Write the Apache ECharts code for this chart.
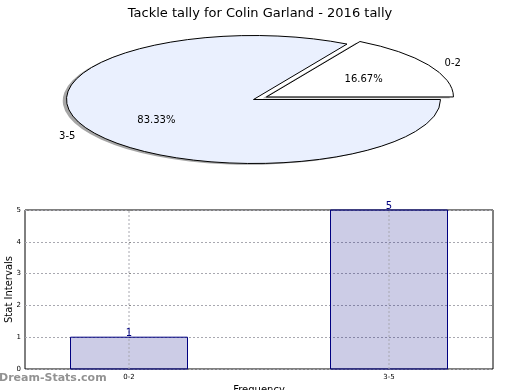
<!DOCTYPE html>
<html><head><meta charset="utf-8">
<script src="https://cdn.jsdelivr.net/npm/echarts@6/dist/echarts.min.js"></script>
<style>html,body{margin:0;padding:0;background:#fff}#c{width:520px;height:390px}</style>
</head><body><div id="c"></div>
<script>
const chartTitle = 'Tackle tally for Colin Garland - 2016 tally';
const categories = ['0-2', '3-5'];
const counts = [1, 5];
const pieColors = ['#ffffff', '#eaf0fe'];
const pieExplode = [0.08, 0];
const yTicks = [0, 1, 2, 3, 4, 5];
const xAxisName = 'Frequency';
const yAxisName = 'Stat Intervals';
const watermark = 'Dream-Stats.com';

const FONT = 'DejaVu Sans';
const total = counts.reduce((a, b) => a + b, 0);
const PIE = { cx: 253.5, cy: 99.5, rx: 187, ry: 64 };

function wedgePath(cx, cy, rx, ry, a0, a1) {
  const x0 = cx + rx * Math.cos(a0), y0 = cy - ry * Math.sin(a0);
  const x1 = cx + rx * Math.cos(a1), y1 = cy - ry * Math.sin(a1);
  const large = (a1 - a0) > Math.PI ? 1 : 0;
  return 'M' + cx + ' ' + cy + 'L' + x0 + ' ' + y0 +
         'A' + rx + ' ' + ry + ' 0 ' + large + ' 0 ' + x1 + ' ' + y1 + 'Z';
}

function pieItem(params, api) {
  const i = params.dataIndex;
  const v = api.value(0);
  let cum = 0;
  for (let j = 0; j < i; j++) cum += counts[j];
  const a0 = 2 * Math.PI * cum / total;
  const a1 = a0 + 2 * Math.PI * v / total;
  const mid = (a0 + a1) / 2;
  const rx = PIE.rx, ry = PIE.ry;
  const ox = PIE.cx + pieExplode[i] * rx * Math.cos(mid);
  const oy = PIE.cy - pieExplode[i] * ry * Math.sin(mid);
  const lx = ox + 1.1 * rx * Math.cos(mid);
  const ly = oy - 1.1 * ry * Math.sin(mid) + 2;
  const px = ox + 0.6 * rx * Math.cos(mid);
  const py = oy - 0.6 * ry * Math.sin(mid) + 2;
  return {
    type: 'group',
    children: [
      { type: 'path', shape: { pathData: wedgePath(ox - 0.02 * rx, oy + 0.02 * ry, rx, ry, a0, a1) },
        style: { fill: 'rgba(77,77,77,0.5)' } },
      { type: 'path', shape: { pathData: wedgePath(ox, oy, rx, ry, a0, a1) },
        style: { fill: pieColors[i], stroke: '#000', lineWidth: 1 } },
      { type: 'text', x: lx, y: ly, z2: 10,
        style: { text: categories[i], font: '10px "' + FONT + '"', fill: '#000',
                 align: Math.cos(mid) > 0 ? 'left' : 'right', verticalAlign: 'middle' } },
      { type: 'text', x: px, y: py, z2: 10,
        style: { text: (100 * v / total).toFixed(2) + '%', font: '10px "' + FONT + '"', fill: '#000',
                 align: 'center', verticalAlign: 'middle' } }
    ]
  };
}

function barItem(params, api) {
  const i = api.value(0);
  const v = api.value(1);
  const w = 0.45;
  const p0 = api.coord([i - w / 2, 0]);
  const p1 = api.coord([i + w / 2, v]);
  const g0 = api.coord([i, yTicks[0]]);
  const g1 = api.coord([i, yTicks[yTicks.length - 1]]);
  return {
    type: 'group',
    children: [
      { type: 'rect', shape: { x: p0[0], y: p1[1], width: p1[0] - p0[0], height: p0[1] - p1[1] },
        style: { fill: 'rgba(0,0,128,0.2)', stroke: '#000080', lineWidth: 1 } },
      { type: 'line', shape: { x1: g0[0], y1: g0[1], x2: g1[0], y2: g1[1] },
        style: { stroke: '#a8a8b0', lineWidth: 1, lineDash: [2, 2] } },
      { type: 'text', x: (p0[0] + p1[0]) / 2, y: p1[1] + 1,
        style: { text: String(v), font: '10px "' + FONT + '"', fill: '#000080', align: 'center', verticalAlign: 'bottom' } }
    ]
  };
}

const chart = echarts.init(document.getElementById('c'), null, { renderer: 'canvas' });
chart.setOption({
  animation: false,
  backgroundColor: '#fff',
  title: { text: chartTitle, left: 'center', top: 2,
           textStyle: { fontFamily: FONT, fontSize: 13, fontWeight: 'normal', color: '#000' } },
  grid: { left: 25, right: 27, top: 210, bottom: 21, show: true, borderColor: '#000', borderWidth: 1,
          backgroundColor: 'transparent', containLabel: false, outerBoundsMode: 'none' },
  xAxis: {
    type: 'value', min: -0.4, max: 1.4, interval: 0.2,
    name: xAxisName, nameLocation: 'middle', nameGap: 16, nameMoveOverlap: false,
    nameTextStyle: { fontFamily: FONT, fontSize: 10, color: '#000' },
    axisLine: { show: false }, axisTick: { show: false }, splitLine: { show: false },
    axisLabel: { fontFamily: FONT, fontSize: 7, color: '#000', margin: 5,
      formatter: function (val) {
        const r = Math.round(val);
        return (Math.abs(val - r) < 1e-6 && r >= 0 && r < categories.length) ? categories[r] : '';
      } }
  },
  yAxis: [{
    type: 'value', min: yTicks[0], max: yTicks[yTicks.length - 1], interval: 1,
    name: yAxisName, nameLocation: 'middle', nameGap: 11, nameRotate: 90, nameMoveOverlap: false,
    nameTextStyle: { fontFamily: FONT, fontSize: 10, color: '#000' },
    axisLine: { show: false },
    axisTick: { show: true, inside: true, length: 2, lineStyle: { color: '#888' } },
    axisLabel: { fontFamily: FONT, fontSize: 7, color: '#000', margin: 4 },
    splitLine: { show: true, lineStyle: { color: '#a8a8b0', type: [2, 2], width: 1 } }
  }, {
    type: 'value', position: 'right', min: yTicks[0], max: yTicks[yTicks.length - 1], interval: 1,
    axisLine: { show: false }, axisLabel: { show: false }, splitLine: { show: false },
    axisTick: { show: true, inside: true, length: 2, lineStyle: { color: '#888' } }
  }],
  graphic: [
    { type: 'text', left: -1, top: 373, z: 100,
      style: { text: watermark, font: 'bold 11px "' + FONT + '"', fill: 'rgba(110,110,110,0.75)' } }
  ],
  series: [
    { type: 'custom', coordinateSystem: 'none', renderItem: pieItem,
      data: counts.map((c, i) => [c, i]), silent: true },
    { type: 'custom', renderItem: barItem, xAxisIndex: 0, yAxisIndex: 0,
      data: counts.map((c, i) => [i, c]), silent: true, z: 3 }
  ]
});
</script></body></html>
